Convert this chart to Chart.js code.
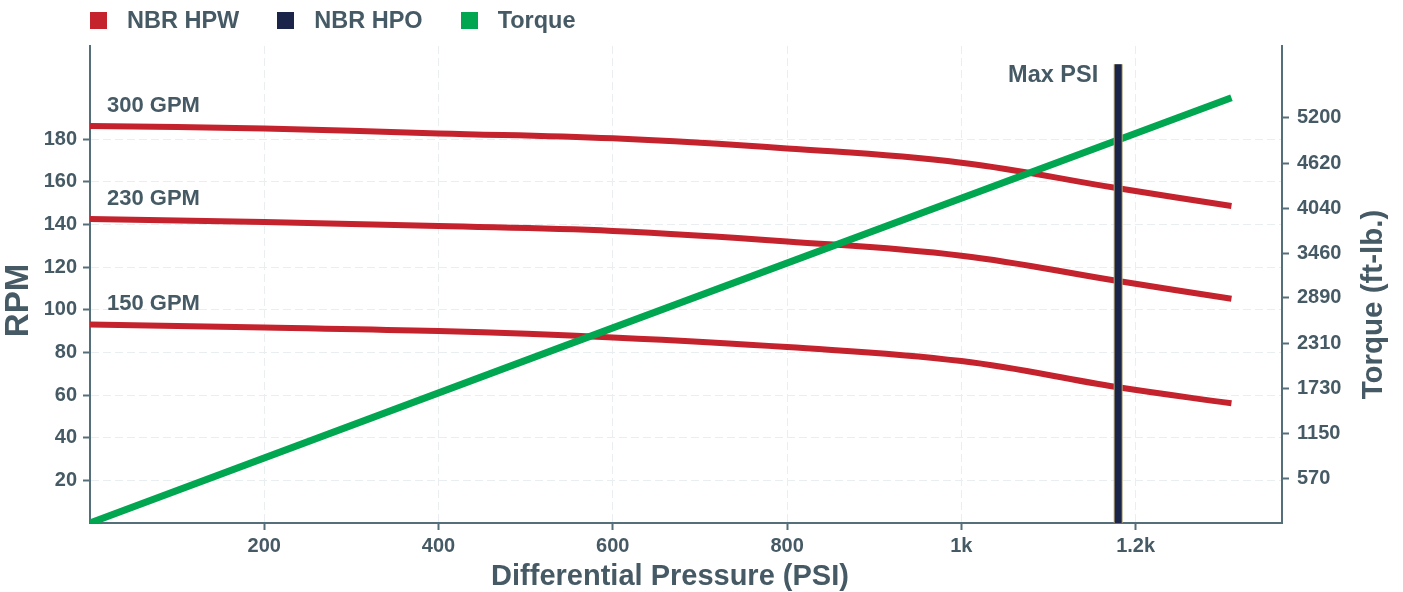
<!DOCTYPE html>
<html>
<head>
<meta charset="utf-8">
<script src="https://cdn.jsdelivr.net/npm/chart.js@4.4.0/dist/chart.umd.min.js"></script>
<style>
    html, body { margin: 0; padding: 0; background: #fff; }
    #wrap { position: relative; width: 1403px; height: 592px; }
    #legend {
        position: absolute; left: 90px; top: 8px; display: flex;
        font: bold 23.5px "Liberation Sans", Arial, sans-serif; color: #455a64;
    }
    .item { display: flex; align-items: center; margin-right: 38px; height: 24px; }
    .box { width: 17px; height: 17px; margin-right: 20px; }
</style>
</head>
<body>
<div id="wrap">
    <canvas id="pumpChart" width="1403" height="592"></canvas>
    <div id="legend"></div>
</div>
<script>
// differential pressure (PSI) where the rpm curves were read
const pressure = [0, 200, 400, 600, 800, 1000, 1180, 1310];
const rpm300 = [186.1, 184.9, 182.6, 180.3, 175.6, 168.9, 156.9, 148.6];
const rpm230 = [142.5, 141.1, 139.2, 136.9, 132.0, 125.3, 113.4, 105.1];
const rpm150 = [93.1, 91.6, 90.0, 87.0, 82.5, 75.9, 63.6, 56.1];
const curveNames = ['300 GPM', '230 GPM', '150 GPM'];

const torquePressure = [0, 600, 1310];
const torque = [0, 2505, 5460];

const maxPsi = 1180;
const maxPsiRpm = [0, 215];

const xTicks = [200, 400, 600, 800, 1000, 1200];
const rpmTicks = [20, 40, 60, 80, 100, 120, 140, 160, 180];
const torqueTicks = [570, 1150, 1730, 2310, 2890, 3460, 4040, 4620, 5200];

const legendNames = ['NBR HPW', 'NBR HPO', 'Torque'];
const legendColors = ['#c4232d', '#1b2549', '#00a650'];

const RED = '#c4232d', NAVY = '#1b2549', GREEN = '#00a650';
const TEXT = '#455a64', AXIS = '#546e7a', GRID = '#e9eef0';
const FONT = '"Liberation Sans", Arial, sans-serif';

// html legend
const legend = document.getElementById('legend');
legendNames.forEach((name, i) => {
    const item = document.createElement('div');
    item.className = 'item';
    item.innerHTML = `<span class="box" style="background:${legendColors[i]}"></span>${name}`;
    legend.appendChild(item);
});

Chart.defaults.font.family = FONT;
Chart.defaults.font.weight = 'bold';
Chart.defaults.color = TEXT;

const toPoints = (xs, ys) => xs.map((v, i) => ({ x: v, y: ys[i] }));
const curves = [rpm300, rpm230, rpm150];

const rpmDatasets = curves.map((vals, i) => ({
    label: curveNames[i],
    data: toPoints(pressure, vals),
    borderColor: RED,
    borderWidth: 6,
    pointRadius: 0,
    tension: 0.4,
    yAxisID: 'y',
    order: 3
}));

const maxLine = toPoints([maxPsi, maxPsi], maxPsiRpm);

// curve labels, max psi label and the axis titles
const labelPlugin = {
    id: 'curveLabels',
    afterDatasetsDraw(chart) {
        const { ctx, chartArea, scales: { x, y } } = chart;
        ctx.save();
        ctx.fillStyle = TEXT;
        ctx.textBaseline = 'middle';

        ctx.font = `bold 22px ${FONT}`;
        ctx.textAlign = 'left';
        curves.forEach((vals, i) => {
            const px = x.getPixelForValue(pressure[0]);
            const py = y.getPixelForValue(vals[0]);
            ctx.fillText(curveNames[i], px + 17, py - 20);
        });

        ctx.font = `bold 23.5px ${FONT}`;
        ctx.textAlign = 'right';
        const mx = x.getPixelForValue(maxPsi);
        const my = y.getPixelForValue(maxPsiRpm[1]);
        ctx.fillText('Max PSI', mx - 20, my + 11);

        ctx.textAlign = 'center';
        const midX = (chartArea.left + chartArea.right) / 2;
        const midY = (chartArea.top + chartArea.bottom) / 2;
        ctx.font = `bold 29px ${FONT}`;
        ctx.fillText('Differential Pressure (PSI)', midX - 16, 577);

        ctx.save();
        ctx.translate(19, midY + 16);
        ctx.rotate(-Math.PI / 2);
        ctx.font = `bold 33px ${FONT}`;
        ctx.fillText('RPM', 0, 0);
        ctx.restore();

        ctx.save();
        ctx.translate(1374, midY + 20);
        ctx.rotate(-Math.PI / 2);
        ctx.font = `bold 29.5px ${FONT}`;
        ctx.fillText('Torque (ft-lb.)', 0, 0);
        ctx.restore();

        ctx.restore();
    }
};

const ctx = document.getElementById('pumpChart').getContext('2d');
new Chart(ctx, {
    type: 'line',
    data: {
        datasets: [
            {
                label: 'Max PSI',
                data: maxLine,
                borderColor: NAVY,
                borderWidth: 7,
                pointRadius: 0,
                yAxisID: 'y',
                order: 0
            },
            {
                label: 'Max PSI edge',
                data: maxLine,
                borderColor: '#b3a57a',
                borderWidth: 9,
                pointRadius: 0,
                yAxisID: 'y',
                order: 1
            },
            {
                label: 'Torque',
                data: toPoints(torquePressure, torque),
                borderColor: GREEN,
                borderWidth: 7,
                pointRadius: 0,
                yAxisID: 'y2',
                order: 2
            },
            ...rpmDatasets
        ]
    },
    options: {
        responsive: false,
        animation: false,
        layout: { padding: { top: 46, left: 0, right: 0, bottom: 0 } },
        plugins: {
            legend: { display: false },
            tooltip: { enabled: false }
        },
        scales: {
            x: {
                type: 'linear',
                min: 0,
                max: 1368,
                afterBuildTicks: s => { s.ticks = xTicks.map(v => ({ value: v })); },
                afterFit: s => { s.height = 69; },
                ticks: {
                    font: { size: 20 },
                    padding: 4,
                    callback: v => v >= 1000 ? (v / 1000) + 'k' : String(v)
                },
                grid: { color: GRID, tickColor: AXIS, tickLength: 7, tickWidth: 2 },
                border: { color: AXIS, width: 2, dash: [8, 4] }
            },
            y: {
                position: 'left',
                min: 0,
                max: 223.6,
                afterBuildTicks: s => { s.ticks = rpmTicks.map(v => ({ value: v })); },
                afterFit: s => { s.width = 90; },
                ticks: { font: { size: 20 }, padding: 6 },
                grid: { color: GRID, tickColor: AXIS, tickLength: 7, tickWidth: 2 },
                border: { color: AXIS, width: 2, dash: [8, 4] }
            },
            y2: {
                position: 'right',
                min: 0,
                max: 6124,
                afterBuildTicks: s => { s.ticks = torqueTicks.map(v => ({ value: v })); },
                afterFit: s => { s.width = 121; },
                ticks: { font: { size: 20 }, padding: 8, callback: v => String(v) },
                grid: { drawOnChartArea: false, tickColor: AXIS, tickLength: 7, tickWidth: 2 },
                border: { color: AXIS, width: 2 }
            }
        }
    },
    plugins: [labelPlugin]
});
</script>
</body>
</html>
